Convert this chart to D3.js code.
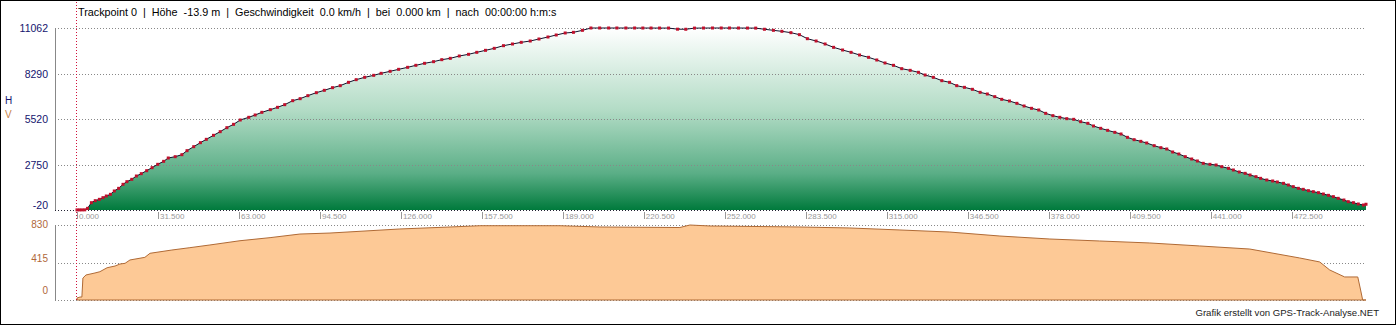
<!DOCTYPE html>
<html>
<head>
<meta charset="utf-8">
<script src="https://cdn.jsdelivr.net/npm/d3@7"></script>
<style>
  body { margin: 0; background: #fff; }
  svg { display: block; font-family: "Liberation Sans", Arial, sans-serif; }
  text { white-space: pre; }
</style>
</head>
<body>
<div id="viz"></div>
<script>

// elevation profile (km, m)
var elevKm = [0, 1.0, 2.0, 3.0, 4.1, 5.6, 7.1, 8.7, 10.1, 11.4, 13.0, 14.5, 16.2, 17.9, 19.4, 21.3, 23.1, 25.0, 27.1, 29.2,
  31.4, 33.7, 35.5, 38.2, 40.8, 42.8, 45.4, 48.0, 50.3, 53.1, 55.7, 58.3, 60.9, 63.5, 66.8, 69.3, 71.9, 75.2, 78.0, 80.8,
  83.9, 86.8, 89.8, 93.1, 96.2, 99.4, 102.4, 105.6, 108.6, 111.9, 115.4, 118.3, 121.8, 125.1, 128.6, 131.8, 135.2, 138.7, 141.9, 145.2,
  148.7, 152.3, 155.5, 158.9, 162.3, 165.9, 169.4, 172.8, 176.3, 179.7, 183.2, 186.4, 189.9, 193.1, 196.6, 199.9, 203.3, 206.8, 210.0, 213.5,
  216.9, 220.1, 223.3, 226.6, 230.1, 233.6, 236.8, 240.2, 243.7, 247.2, 250.6, 253.8, 257.3, 260.8, 264.0, 267.4, 270.9, 274.2, 277.7, 281.0,
  284.1, 287.5, 291.0, 294.3, 297.8, 301.1, 304.4, 307.9, 311.1, 314.3, 317.6, 320.8, 324.1, 327.3, 329.9, 333.1, 336.4, 339.4, 342.2, 345.2,
  348.3, 351.3, 354.1, 357.0, 359.7, 362.7, 365.6, 368.4, 371.3, 374.1, 376.8, 379.6, 382.3, 385.0, 387.7, 390.4, 393.2, 395.4, 398.2, 400.9,
  403.7, 406.1, 408.6, 411.2, 413.8, 416.1, 419.0, 421.6, 423.9, 426.2, 428.6, 431.1, 433.6, 435.8, 438.1, 440.7, 443.1, 445.3, 447.9, 449.8,
  452.1, 454.4, 456.3, 458.6, 460.4, 462.8, 465.1, 466.9, 469.3, 471.2, 473.1, 475.1, 477.0, 479.0, 480.9, 482.9, 484.8, 486.8, 488.7, 490.6,
  492.8, 494.5, 496.5, 498.4, 500.4, 501.4];
var elevM = [-14, -14, -13, -10, 81, 426, 548, 630, 731, 832, 934, 1137, 1299, 1543, 1705, 1847, 2050, 2192, 2375, 2558,
  2761, 2943, 3146, 3227, 3349, 3593, 3836, 4080, 4283, 4527, 4750, 4993, 5196, 5460, 5623, 5765, 5927, 6089, 6232, 6394,
  6637, 6759, 6942, 7124, 7267, 7429, 7551, 7754, 7916, 8058, 8180, 8302, 8424, 8545, 8667, 8789, 8911, 9012, 9134, 9215,
  9357, 9459, 9580, 9702, 9824, 9986, 10088, 10189, 10270, 10392, 10514, 10636, 10758, 10798, 10920, 11062, 11062, 11062, 11062, 11062,
  11062, 11060, 11060, 11058, 11058, 10990, 10985, 11055, 11060, 11062, 11062, 11062, 11060, 11058, 11055, 10985, 10920, 10859, 10778, 10656,
  10412, 10270, 10088, 9885, 9722, 9580, 9418, 9276, 9114, 8931, 8789, 8586, 8484, 8363, 8200, 8058, 7855, 7754, 7551, 7449,
  7328, 7145, 7043, 6881, 6719, 6617, 6475, 6313, 6171, 6069, 5866, 5724, 5623, 5541, 5501, 5358, 5257, 5095, 4953, 4831,
  4709, 4608, 4405, 4262, 4161, 4060, 3897, 3775, 3694, 3512, 3390, 3227, 3085, 2964, 2822, 2761, 2720, 2618, 2517, 2416,
  2294, 2213, 2111, 2010, 1908, 1807, 1746, 1685, 1604, 1502, 1401, 1299, 1238, 1157, 1096, 1035, 954, 873, 792, 690,
  589, 487, 426, 345, 284, 330];

// speed profile (km, km/h)
var speedKm = [0, 1.2, 1.9, 2.3, 3.5, 7.0, 8.9, 11.7, 14.8, 16.7, 18.7, 20.6, 26.4, 28.4, 36.9, 43.9, 51.7, 63.4, 75.1, 86.7,
  98.4, 125.6, 145.1, 156.7, 187.8, 203.4, 234.5, 238.4, 246.2, 281.2, 300.6, 320.1, 339.5, 359.0, 378.4, 397.8, 417.3, 436.7, 456.2, 475.6,
  483.4, 487.3, 493.1, 498.2, 499.3, 500.1, 501.4];
var speedKmh = [22, 33, 33, 243, 277, 299, 313, 357, 376, 398, 406, 443, 472, 517, 553, 579, 609, 656, 690, 730,
  741, 786, 808, 822, 822, 808, 802, 830, 819, 808, 797, 775, 752, 708, 675, 653, 631, 598, 564, 465,
  421, 332, 255, 255, 111, 0, 0];

var elevTicks = [-20, 2750, 5520, 8290, 11062];
var speedTicks = [0, 415, 830];
var kmTicks = [0, 31.5, 63, 94.5, 126, 157.5, 189, 220.5, 252, 283.5, 315, 346.5, 378, 409.5, 441, 472.5];

var headerText = "Trackpoint 0  |  Höhe  -13.9 m  |  Geschwindigkeit  0.0 km/h  |  bei  0.000 km  |  nach  00:00:00 h:m:s";
var creditText = "Grafik erstellt von GPS-Track-Analyse.NET";

var viz = { width: 1396, height: 325 };

var svg = d3.select("#viz")
  .append("svg")
  .attr("width", viz.width)
  .attr("height", viz.height);

var x = d3.scaleLinear().domain([0, 501.4]).range([77, 1366]);
var yE = d3.scaleLinear().domain([-20, 11062]).range([210, 28]);
var yS = d3.scaleLinear().domain([0, 830]).range([300, 225]);

var elev = elevKm.map(function(k, i) { return { km: k, v: elevM[i] } });
var speed = speedKm.map(function(k, i) { return { km: k, v: speedKmh[i] } });

// frame
svg.append("rect")
  .attr("x", 0.5).attr("y", 0.5)
  .attr("width", viz.width - 1).attr("height", viz.height - 1)
  .attr("fill", "none").attr("stroke", "#000");

var defs = svg.append("defs");
var grad = defs.append("linearGradient")
  .attr("id", "green")
  .attr("gradientUnits", "userSpaceOnUse")
  .attr("x1", 0).attr("y1", yE(11062)).attr("x2", 0).attr("y2", yE(-20));
grad.append("stop").attr("offset", "0%").attr("stop-color", "#ffffff");
grad.append("stop").attr("offset", "45%").attr("stop-color", "#b3dcc6");
grad.append("stop").attr("offset", "80%").attr("stop-color", "#5aae86");
grad.append("stop").attr("offset", "100%").attr("stop-color", "#007a3c");

// elevation area
svg.append("path")
  .datum(elev)
  .attr("fill", "url(#green)")
  .attr("d", d3.area()
    .x(function(d) { return x(d.km) })
    .y0(yE(-20))
    .y1(function(d) { return yE(d.v) }));

// gridlines top
svg.selectAll(".gridE")
  .data(elevTicks).enter()
  .append("line")
  .attr("x1", 55).attr("x2", 1366)
  .attr("y1", function(d) { return Math.round(yE(d)) + 0.5 })
  .attr("y2", function(d) { return Math.round(yE(d)) + 0.5 })
  .attr("stroke", function(d, i) { return i == 0 ? "#223" : "#888" })
  .attr("stroke-dasharray", "1,2");

// gridlines bottom
svg.selectAll(".gridS")
  .data(speedTicks).enter()
  .append("line")
  .attr("x1", 55).attr("x2", 1366)
  .attr("y1", function(d) { return Math.round(yS(d)) + 0.5 })
  .attr("y2", function(d) { return Math.round(yS(d)) + 0.5 })
  .attr("stroke", "#888")
  .attr("stroke-dasharray", "1,2");

// left axes
svg.append("line").attr("x1", 55.5).attr("x2", 55.5).attr("y1", yE(11062)).attr("y2", yE(-20)).attr("stroke", "#888");
svg.append("line").attr("x1", 55.5).attr("x2", 55.5).attr("y1", yS(830)).attr("y2", yS(0)).attr("stroke", "#888");

svg.selectAll(".labE")
  .data(elevTicks).enter()
  .append("text")
  .attr("x", 48).attr("y", function(d, i) { return yE(d) + (i == 0 ? -1 : 4) })
  .attr("text-anchor", "end")
  .attr("font-size", 10.5)
  .attr("fill", "#14146e")
  .text(function(d) { return d });

// lower labels sit a bit higher towards the bottom
svg.selectAll(".labS")
  .data(speedTicks).enter()
  .append("text")
  .attr("x", 48).attr("y", function(d, i) { return yS(d) + [-6, -0.5, 3][i] })
  .attr("text-anchor", "end")
  .attr("font-size", 10)
  .attr("fill", "#b0683a")
  .text(function(d) { return d });

svg.append("text").attr("x", 5).attr("y", 104).attr("font-size", 10).attr("fill", "#14146e").text("H");
svg.append("text").attr("x", 5).attr("y", 118).attr("font-size", 10).attr("fill", "#c8844a").text("V");

// km axis
var kmAxis = svg.append("g").attr("transform", "translate(0,211)");
kmAxis.selectAll("line")
  .data(kmTicks).enter()
  .append("line")
  .attr("x1", function(d) { return Math.round(x(d)) + 0.5 })
  .attr("x2", function(d) { return Math.round(x(d)) + 0.5 })
  .attr("y1", 1).attr("y2", 8)
  .attr("stroke", "#999");
kmAxis.selectAll("text")
  .data(kmTicks).enter()
  .append("text")
  .attr("x", function(d) { return x(d) + 2 })
  .attr("y", 8)
  .attr("font-size", 8)
  .attr("fill", "#999")
  .text(d3.format(".3f"));

// speed area
svg.append("path")
  .datum(speed)
  .attr("fill", "#fdc996")
  .attr("stroke", "#b06a35")
  .attr("stroke-width", 1)
  .attr("d", d3.area()
    .x(function(d) { return x(d.km) })
    .y0(yS(0))
    .y1(function(d) { return yS(d.v) }));

// elevation line + markers
svg.append("path")
  .datum(elev)
  .attr("fill", "none")
  .attr("stroke", "#10102a")
  .attr("stroke-width", 1)
  .attr("d", d3.line()
    .x(function(d) { return x(d.km) })
    .y(function(d) { return yE(d.v) }));

svg.selectAll(".pt")
  .data(elev).enter()
  .append("rect")
  .attr("class", "pt")
  .attr("x", function(d) { return x(d.km) - 1.5 })
  .attr("y", function(d) { return yE(d.v) - 1.5 })
  .attr("width", 3).attr("height", 3)
  .attr("fill", "#c0102c");

// trackpoint cursor
svg.append("line")
  .attr("x1", 76.5).attr("x2", 76.5)
  .attr("y1", 2).attr("y2", 300)
  .attr("stroke", "#d0103a")
  .attr("stroke-dasharray", "1,2");

svg.append("text")
  .attr("x", 78).attr("y", 16)
  .attr("font-size", 10.8)
  .attr("fill", "#000")
  .text(headerText);

svg.append("text")
  .attr("x", 1379).attr("y", 316)
  .attr("text-anchor", "end")
  .attr("font-size", 9.6)
  .attr("fill", "#222")
  .text(creditText);

</script>
</body>
</html>
